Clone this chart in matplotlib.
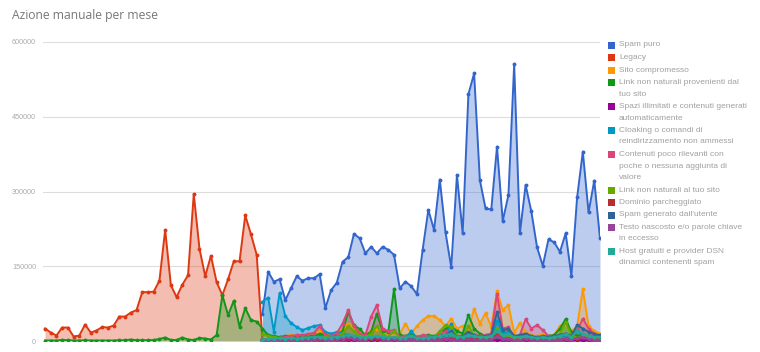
import numpy as np
import matplotlib
matplotlib.use("Agg")
import matplotlib.pyplot as plt
from matplotlib.patches import Rectangle

plt.rcParams['font.family'] = ['Liberation Sans', 'DejaVu Sans']

# monthly manual actions, 98 months; new categories start at month 38
n_months = 98
new_start = 38

legacy = [25000, 17000, 11000, 27000, 27000, 9000, 11000, 33000, 17000, 21000,
          28000, 27000, 31000, 49000, 49000, 57000, 62000, 98000, 98000, 99000,
          121000, 223000, 112000, 88000, 113000, 132000, 295000, 185000, 130000, 171000,
          118000, 92000, 124000, 160000, 160000, 252000, 214000, 173000, 2000]

link_dal_sito = [1000, 1000, 1000, 2000, 1500, 1000, 1000, 1500, 1000, 1000,
                 1000, 1000, 1000, 1500, 1500, 3000, 1500, 1500, 1500, 2000,
                 4000, 7000, 2000, 2000, 7000, 3000, 2000, 6000, 5000, 3000,
                 12000, 92000, 52000, 81000, 29000, 66000, 42000, 39000, 25000, 12000,
                 10000, 8000, 10000, 9000, 8000, 10000, 12000, 10000, 14000, 12000,
                 10000, 12000, 20000, 58000, 32000, 24000, 12000, 18000, 55000, 20000,
                 18000, 104000, 12000, 10000, 15000, 8000, 10000, 12000, 10000, 14000,
                 25000, 30000, 20000, 15000, 52000, 25000, 15000, 10000, 8000, 20000,
                 14000, 10000, 8000, 10000, 12000, 8000, 6000, 8000, 10000, 12000,
                 25000, 44000, 18000, 10000, 12000, 10000, 8000, 8000]

spam_puro = [55000, 139000, 119000, 124000, 82000, 106000, 130000, 121000, 126000, 126000,
             134000, 66000, 102000, 117000, 159000, 168000, 215000, 206000, 176000, 189000,
             176000, 189000, 183000, 173000, 106000, 119000, 110000, 94000, 183000, 263000,
             223000, 324000, 218000, 148000, 333000, 216000, 495000, 537000, 323000, 266000,
             264000, 390000, 241000, 293000, 555000, 216000, 313000, 260000, 188000, 151000,
             204000, 198000, 179000, 216000, 131000, 288000, 380000, 258000, 322000, 206000]

sito_compromesso = [5000, 8000, 9000, 8000, 10000, 12000, 10000, 12000, 14000, 15000,
                    20000, 14000, 12000, 18000, 22000, 35000, 25000, 18000, 14000, 20000,
                    25000, 18000, 15000, 10000, 14000, 35000, 15000, 30000, 42000, 50000,
                    50000, 42000, 30000, 45000, 25000, 30000, 22000, 65000, 35000, 56000,
                    29000, 100000, 62000, 72000, 16000, 36000, 18000, 12000, 10000, 14000,
                    10000, 12000, 30000, 35000, 20000, 30000, 104000, 30000, 20000, 15000]

spazi_illimitati = [3000, 2000, 2000, 1000, 2000, 1000, 1000, 2000, 1000, 1000,
                    1000, 1000, 2000, 1000, 1000, 2000, 1000, 1000, 1000, 1000,
                    2000, 1000, 1000, 1000, 1000, 1000, 2000, 1000, 1000, 1000,
                    1000, 1000, 1000, 2000, 1000, 1000, 1000, 1000, 1000, 1000,
                    1000, 2000, 1000, 1000, 1000, 1000, 1000, 1000, 1000, 1000,
                    1000, 1000, 1000, 1000, 1000, 2000, 1000, 1000, 1000, 1000]

cloaking = [79000, 87000, 19000, 96000, 50000, 36000, 28000, 22000, 26000, 30000,
            32000, 18000, 15000, 18000, 15000, 12000, 10000, 8000, 10000, 8000,
            6000, 8000, 6000, 5000, 4000, 5000, 20000, 6000, 4000, 5000,
            6000, 8000, 10000, 35000, 8000, 6000, 8000, 10000, 6000, 5000,
            6000, 40000, 15000, 18000, 6000, 8000, 6000, 5000, 4000, 5000,
            4000, 5000, 6000, 8000, 5000, 22000, 12000, 8000, 6000, 5000]

contenuti_poveri = [2000, 4000, 5000, 6000, 8000, 10000, 12000, 12000, 14000, 16000,
                    30000, 12000, 10000, 15000, 35000, 62000, 30000, 15000, 12000, 49000,
                    72000, 25000, 20000, 22000, 8000, 10000, 6000, 8000, 12000, 10000,
                    8000, 14000, 20000, 16000, 10000, 8000, 14000, 12000, 10000, 12000,
                    15000, 95000, 25000, 28000, 8000, 12000, 44000, 25000, 32000, 22000,
                    10000, 8000, 12000, 15000, 8000, 20000, 45000, 25000, 15000, 10000]

link_al_sito = [15000, 10000, 8000, 6000, 5000, 6000, 5000, 4000, 5000, 6000,
                6000, 8000, 6000, 8000, 15000, 30000, 20000, 10000, 8000, 15000,
                30000, 12000, 8000, 20000, 6000, 5000, 8000, 6000, 5000, 6000,
                8000, 20000, 32000, 28000, 10000, 8000, 30000, 10000, 6000, 8000,
                6000, 25000, 10000, 12000, 5000, 6000, 8000, 6000, 5000, 6000,
                5000, 6000, 15000, 38000, 12000, 6000, 10000, 8000, 6000, 5000]

dominio_parcheggiato = [4000, 3000, 3000, 2000, 3000, 2000, 3000, 2000, 2000, 3000,
                        3000, 2000, 3000, 4000, 3000, 5000, 4000, 3000, 3000, 4000,
                        5000, 3000, 3000, 4000, 2000, 3000, 2000, 2000, 3000, 2000,
                        3000, 3000, 4000, 5000, 3000, 4000, 3000, 5000, 3000, 3000,
                        4000, 12000, 5000, 4000, 3000, 3000, 4000, 3000, 2000, 3000,
                        2000, 3000, 3000, 4000, 3000, 5000, 8000, 4000, 3000, 3000]

spam_utente = [2000, 3000, 3000, 4000, 3000, 4000, 5000, 4000, 5000, 6000,
               8000, 5000, 6000, 8000, 10000, 12000, 8000, 6000, 5000, 6000,
               8000, 6000, 5000, 6000, 5000, 6000, 8000, 6000, 5000, 6000,
               8000, 10000, 12000, 20000, 8000, 10000, 18000, 12000, 8000, 10000,
               12000, 58000, 22000, 25000, 10000, 12000, 15000, 10000, 8000, 10000,
               8000, 10000, 12000, 15000, 10000, 32000, 25000, 18000, 14000, 12000]

testo_nascosto = [2000, 3000, 2000, 2000, 3000, 2000, 2000, 3000, 2000, 2000,
                  4000, 2000, 2000, 3000, 5000, 8000, 4000, 3000, 3000, 6000,
                  8000, 3000, 3000, 4000, 2000, 2000, 3000, 2000, 2000, 2000,
                  3000, 3000, 4000, 3000, 2000, 2000, 3000, 3000, 2000, 2000,
                  3000, 10000, 4000, 4000, 2000, 2000, 5000, 3000, 3000, 2000,
                  2000, 2000, 3000, 4000, 2000, 6000, 8000, 4000, 3000, 2000]

host_gratuiti = [3000, 4000, 5000, 6000, 5000, 6000, 5000, 6000, 7000, 8000,
                 8000, 6000, 7000, 8000, 10000, 12000, 10000, 8000, 7000, 8000,
                 10000, 8000, 7000, 8000, 6000, 7000, 10000, 6000, 6000, 7000,
                 8000, 10000, 12000, 15000, 8000, 8000, 12000, 10000, 8000, 8000,
                 10000, 20000, 12000, 14000, 8000, 8000, 10000, 8000, 6000, 8000,
                 6000, 8000, 10000, 14000, 8000, 20000, 15000, 10000, 8000, 8000]

labels = ["Spam puro",
          "Legacy",
          "Sito compromesso",
          "Link non naturali provenienti dal\ntuo sito",
          "Spazi illimitati e contenuti generati\nautomaticamente",
          "Cloaking o comandi di\nreindirizzamento non ammessi",
          "Contenuti poco rilevanti con\npoche o nessuna aggiunta di\nvalore",
          "Link non naturali al tuo sito",
          "Dominio parcheggiato",
          "Spam generato dall'utente",
          "Testo nascosto e/o parole chiave\nin eccesso",
          "Host gratuiti e provider DSN\ndinamici contenenti spam"]
colors = ["#3366cc", "#dc3912", "#ff9900", "#109618", "#990099", "#0099c6",
          "#dd4477", "#66aa00", "#b82e2e", "#316395", "#994499", "#22aa99"]
series = [(spam_puro, new_start), (legacy, 0), (sito_compromesso, new_start),
          (link_dal_sito, 0), (spazi_illimitati, new_start), (cloaking, new_start),
          (contenuti_poveri, new_start), (link_al_sito, new_start),
          (dominio_parcheggiato, new_start), (spam_utente, new_start),
          (testo_nascosto, new_start), (host_gratuiti, new_start)]


def pad(values, start):
    arr = np.full(n_months, np.nan)
    arr[start:start + len(values)] = values
    return arr


W, H = 760, 352
fig = plt.figure(figsize=(W / 100, H / 100), dpi=100)
ax = fig.add_axes([43 / W, 11 / H, 557 / W, 299 / H])
x = np.arange(n_months)

for (vals, start), c in zip(series, colors):
    y = pad(vals, start)
    ax.fill_between(x, 0, y, color=c, alpha=0.33, lw=0)
    ax.plot(x, y, color=c, lw=1.4, marker='o', ms=1.8)

ax.set_xlim(-0.35, n_months - 1)
ax.set_ylim(0, 600000)
ax.set_yticks([0, 150000, 300000, 450000, 600000])
ax.set_yticklabels(["0", "150000", "300000", "450000", "600000"])
ax.set_xticks([])
ax.tick_params(axis='y', length=0, pad=5, labelsize=5.2, labelcolor="#aaaaaa")
ax.grid(axis='y', color="#dddddd", lw=0.8)
ax.set_axisbelow(True)
for s in ax.spines.values():
    s.set_visible(False)

# title
fig.text(12 / W, 1 - 15 / H, "Azione manuale per mese", family=['Open Sans', 'DejaVu Sans'],
         fontsize=8.7, color="#777777", va='center', ha='left')

# legend drawn by hand to match the wrapped labels
line_h = 11.5
y_px = 45
for lab, c in zip(labels, colors):
    fig.patches.append(Rectangle((607.5 / W, 1 - (y_px + 3.5) / H), 7 / W, 7 / H,
                                 transform=fig.transFigure, color=c, lw=0))
    lines = lab.split("\n")
    for k, ln in enumerate(lines):
        fig.text(619 / W, 1 - (y_px + k * line_h) / H, ln, fontsize=6,
                 color="#a0a0a0", va='center', ha='left')
    y_px += len(lines) * line_h + 1

fig.savefig("out.png", dpi=100)
